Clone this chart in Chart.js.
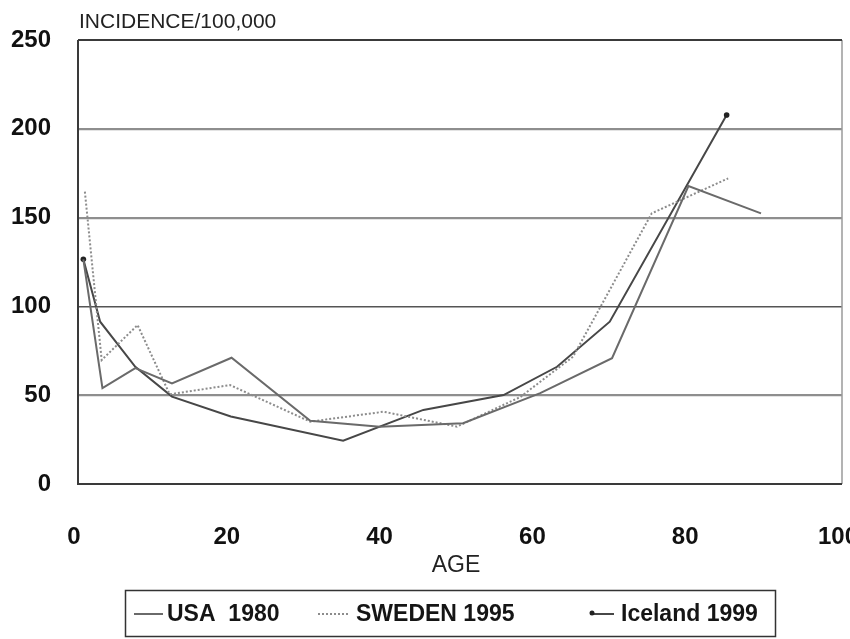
<!DOCTYPE html>
<html>
<head>
<meta charset="utf-8">
<script src="https://cdn.jsdelivr.net/npm/chart.js@4.4.0/dist/chart.umd.min.js"></script>
<style>
  html, body { margin: 0; padding: 0; background: #fff; }
  #wrap { width: 850px; height: 639px; }
</style>
</head>
<body>
<div id="wrap"><canvas id="myChart" width="850" height="639"></canvas></div>
<script>
const ctx = document.getElementById('myChart').getContext('2d')

const bold = '"Liberation Sans", Arial, sans-serif'
const plain = '"Liberation Sans", Arial, sans-serif'

// age groups and incidence per 100,000
const usaAge  = [0.7, 3.2, 7.5, 12.3, 20.1, 30.4, 39.5, 50.4, 60.5, 69.9, 79.9, 89.4]
const usaRate = [126.5, 54, 65.3, 56.7, 71.1, 35.6, 32.3, 34.2, 51.2, 70.8, 167.8, 152.4]

const swedenAge  = [0.9, 3.1, 7.8, 12.0, 19.9, 30.4, 40.0, 49.6, 57.9, 64.8, 75.1, 85.1]
const swedenRate = [164.6, 69.8, 89.5, 50.5, 55.7, 35.1, 40.7, 32.3, 49, 71.7, 152.4, 172.1]

const icelandAge  = [0.7, 2.9, 7.5, 12.3, 20.0, 34.7, 45.2, 55.7, 62.7, 69.6, 84.9]
const icelandRate = [126.5, 91.4, 66, 49.2, 38, 24.4, 41.7, 50.1, 66, 91.4, 207.8]

const xTicks = [0, 20, 40, 60, 80, 100]
const yTicks = [0, 50, 100, 150, 200, 250]

const seriesLabels = ['USA  1980', 'SWEDEN 1995', 'Iceland 1999']

function pairs(xs, ys) {
    return xs.map((x, i) => ({ x: x, y: ys[i] }))
}

const endDots = icelandAge.map((a, i) => (i === 0 || i === icelandAge.length - 1) ? 2.8 : 0)

const data = {
    datasets: [
        {
            label: seriesLabels[0],
            data: pairs(usaAge, usaRate),
            borderColor: '#6a6a6a',
            borderWidth: 2,
            pointRadius: 0
        },
        {
            label: seriesLabels[1],
            data: pairs(swedenAge, swedenRate),
            borderColor: '#8c8c8c',
            borderWidth: 2,
            borderDash: [2, 2],
            pointRadius: 0
        },
        {
            label: seriesLabels[2],
            data: pairs(icelandAge, icelandRate),
            borderColor: '#474747',
            backgroundColor: '#222',
            borderWidth: 2,
            pointRadius: endDots,
            pointBorderWidth: 0
        }
    ]
}

// frame, axis captions and the boxed legend
const decor = {
    id: 'decor',
    beforeDatasetsDraw(chart) {
        const a = chart.chartArea
        const c = chart.ctx
        c.save()
        c.strokeStyle = '#9a9a9a'
        c.lineWidth = 1.5
        c.beginPath()
        c.moveTo(a.right, a.top)
        c.lineTo(a.right, a.bottom)
        c.stroke()
        c.strokeStyle = '#3a3a3a'
        c.lineWidth = 2
        c.beginPath()
        c.moveTo(a.left, a.top)
        c.lineTo(a.right, a.top)
        c.moveTo(a.left, a.top)
        c.lineTo(a.left, a.bottom)
        c.lineTo(a.right, a.bottom)
        c.stroke()
        c.restore()
    },
    afterDraw(chart) {
        const c = chart.ctx
        const a = chart.chartArea
        c.save()
        c.fillStyle = '#222'
        c.textBaseline = 'alphabetic'
        c.textAlign = 'left'
        c.font = '21px ' + plain
        c.fillText('INCIDENCE/100,000', a.left + 1, 28)

        c.textAlign = 'center'
        c.textBaseline = 'middle'
        c.font = '23px ' + plain
        c.fillText('AGE', 456, 566)

        // legend box
        c.strokeStyle = '#333'
        c.lineWidth = 1.5
        c.strokeRect(125.5, 590.5, 650, 46)

        const ly = 614
        const ds = chart.data.datasets
        const items = [
            { x0: 134, x1: 163, tx: 167 },
            { x0: 318, x1: 349, tx: 356 },
            { x0: 592, x1: 614, tx: 621 }
        ]
        c.font = 'bold 23px ' + bold
        c.textAlign = 'left'
        items.forEach((it, i) => {
            const d = ds[i]
            c.strokeStyle = d.borderColor
            c.lineWidth = 2
            c.setLineDash(d.borderDash || [])
            c.beginPath()
            c.moveTo(it.x0, ly)
            c.lineTo(it.x1, ly)
            c.stroke()
            c.setLineDash([])
            if (i === 2) {
                c.fillStyle = '#222'
                c.beginPath()
                c.arc(it.x0, ly - 1, 2.5, 0, Math.PI * 2)
                c.fill()
            }
            c.fillStyle = '#151515'
            c.fillText(d.label, it.tx, ly + 1)
        })
        c.restore()
    }
}

const config = {
    type: 'line',
    data,
    plugins: [decor],
    options: {
        responsive: false,
        animation: false,
        layout: { padding: { top: 40, right: 8, left: 0, bottom: 0 } },
        plugins: {
            legend: { display: false },
            tooltip: { enabled: false }
        },
        scales: {
            x: {
                type: 'linear',
                min: 0,
                max: 100,
                afterBuildTicks(scale) {
                    scale.ticks = xTicks.map(v => ({ value: v }))
                },
                afterFit(scale) {
                    scale.height = 155
                    scale.paddingLeft = 0
                    scale.paddingRight = 0
                },
                grid: { display: false, drawTicks: false },
                border: { display: false },
                ticks: {
                    padding: 39,
                    labelOffset: -4,
                    color: '#111',
                    font: { family: bold, size: 24, weight: 'bold' },
                    maxRotation: 0,
                    autoSkip: false
                }
            },
            y: {
                min: 0,
                max: 250,
                afterBuildTicks(scale) {
                    scale.ticks = yTicks.map(v => ({ value: v }))
                },
                afterFit(scale) {
                    scale.width = 78
                    scale.paddingTop = 0
                    scale.paddingBottom = 0
                },
                grid: {
                    drawTicks: false,
                    color: ctx => (ctx.tick && (ctx.tick.value === 0 || ctx.tick.value === 250)) ? 'rgba(0,0,0,0)' : (ctx.tick && ctx.tick.value === 100 ? '#555' : '#8e8e8e'),
                    lineWidth: ctx => (ctx.tick && ctx.tick.value === 100) ? 1.6 : 2.2
                },
                border: { display: false },
                ticks: {
                    padding: 27,
                    color: '#111',
                    font: { family: bold, size: 24, weight: 'bold' }
                }
            }
        }
    }
}

const myChart = new Chart(ctx, config)
</script>
</body>
</html>
